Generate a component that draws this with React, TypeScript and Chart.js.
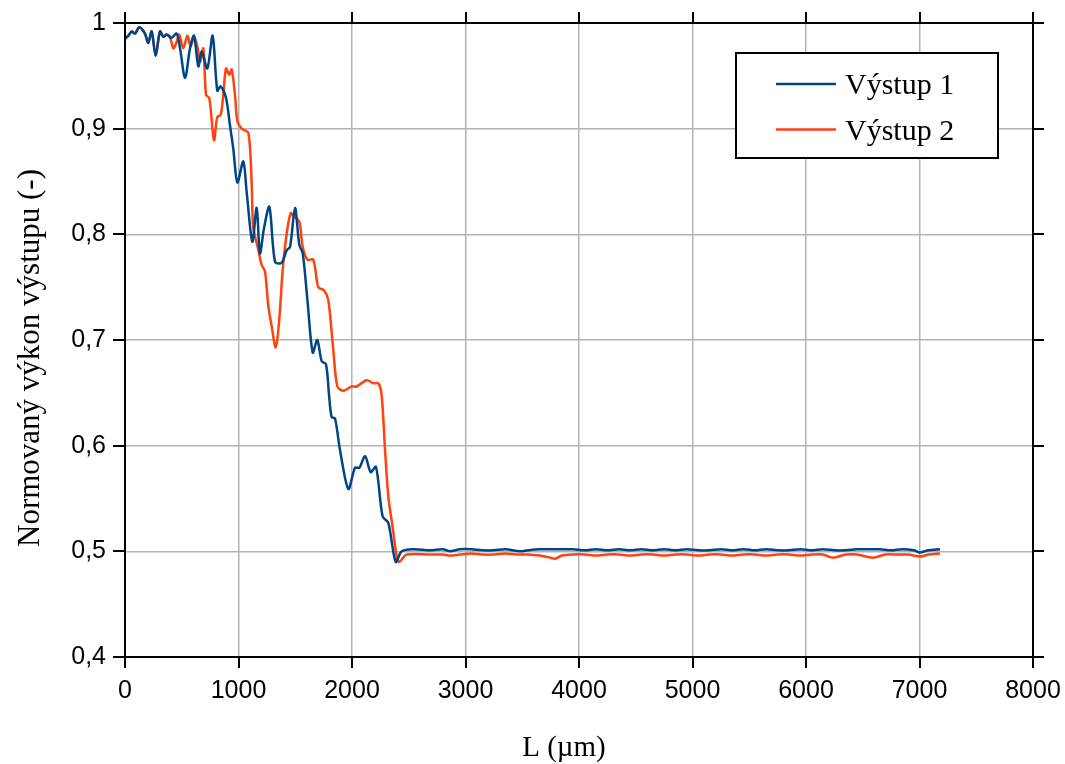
import { useEffect, useRef } from 'react';
import { Chart, registerables } from 'chart.js';

Chart.register(...registerables);

const seriesNames = ['Výstup 1', 'Výstup 2'];
const seriesColors = ['#004586', '#ff420e'];

const output1: [number, number][] = [
  [0, 0.985], [30, 0.988], [59, 0.992], [88, 0.99], [126, 0.996], [176, 0.99], [205, 0.981], [235, 0.992],
  [270, 0.969], [308, 0.992], [338, 0.987], [367, 0.989], [411, 0.986], [455, 0.99], [485, 0.976], [529, 0.948],
  [573, 0.976], [608, 0.988], [646, 0.959], [676, 0.973], [725, 0.957], [772, 0.988], [813, 0.936], [843, 0.94],
  [890, 0.929], [925, 0.903], [954, 0.881], [990, 0.849], [1042, 0.869], [1072, 0.84], [1122, 0.793], [1160, 0.825],
  [1189, 0.782], [1225, 0.806], [1272, 0.826], [1322, 0.774], [1380, 0.773], [1425, 0.785], [1454, 0.788], [1498, 0.825],
  [1536, 0.79], [1566, 0.782], [1607, 0.738], [1654, 0.688], [1694, 0.7], [1733, 0.68], [1771, 0.677], [1800, 0.645],
  [1821, 0.627], [1850, 0.626], [1894, 0.596], [1968, 0.559], [2026, 0.579], [2064, 0.579], [2115, 0.59], [2165, 0.575],
  [2211, 0.58], [2270, 0.533], [2320, 0.527], [2385, 0.49], [2438, 0.5], [2540, 0.502], [2687, 0.501],
  [2800, 0.502], [2863, 0.5], [2950, 0.502], [3050, 0.502], [3150, 0.501], [3250, 0.501], [3350, 0.502], [3480, 0.5],
  [3550, 0.501], [3650, 0.502], [3750, 0.502], [3850, 0.502], [3950, 0.502], [4050, 0.501], [4150, 0.502], [4250, 0.501],
  [4350, 0.502], [4450, 0.501], [4550, 0.502], [4650, 0.501], [4750, 0.502], [4850, 0.501], [4950, 0.502], [5050, 0.501],
  [5150, 0.501], [5250, 0.502], [5350, 0.501], [5450, 0.502], [5550, 0.501], [5650, 0.502], [5750, 0.501], [5850, 0.501],
  [5950, 0.502], [6050, 0.501], [6150, 0.502], [6250, 0.501], [6350, 0.501], [6450, 0.502], [6550, 0.502], [6650, 0.502],
  [6750, 0.501], [6850, 0.502], [6950, 0.501], [7004, 0.499], [7080, 0.501], [7180, 0.502],
];

const output2: [number, number][] = [
  [0, 0.985], [30, 0.988], [59, 0.992], [88, 0.99], [126, 0.996], [176, 0.99], [205, 0.981], [235, 0.992],
  [270, 0.969], [308, 0.992], [338, 0.987], [367, 0.989], [396, 0.987], [426, 0.976], [455, 0.982], [478, 0.989],
  [514, 0.976], [549, 0.988], [579, 0.978], [608, 0.987], [637, 0.978], [661, 0.963], [690, 0.976], [714, 0.932],
  [743, 0.929], [784, 0.889], [813, 0.911], [843, 0.913], [866, 0.932], [890, 0.957], [919, 0.951], [940, 0.956],
  [969, 0.932], [990, 0.907], [1028, 0.9], [1087, 0.896], [1116, 0.848], [1130, 0.807], [1175, 0.785], [1204, 0.771],
  [1233, 0.765], [1263, 0.732], [1292, 0.713], [1328, 0.693], [1359, 0.719], [1389, 0.766], [1425, 0.801], [1460, 0.82],
  [1489, 0.817], [1536, 0.812], [1566, 0.788], [1607, 0.776], [1659, 0.776], [1703, 0.75], [1753, 0.747], [1791, 0.738],
  [1835, 0.691], [1871, 0.656], [1924, 0.652], [1997, 0.656], [2041, 0.656], [2129, 0.662], [2188, 0.659], [2232, 0.659],
  [2261, 0.648], [2291, 0.596], [2320, 0.552], [2358, 0.523], [2394, 0.495], [2417, 0.49], [2482, 0.497], [2687, 0.497],
  [2800, 0.497], [2863, 0.496], [2950, 0.497], [3050, 0.498], [3150, 0.497], [3250, 0.497], [3350, 0.498], [3450, 0.497],
  [3550, 0.497], [3650, 0.496], [3750, 0.494], [3789, 0.493], [3850, 0.496], [3950, 0.497], [4050, 0.497], [4150, 0.496],
  [4250, 0.497], [4350, 0.497], [4450, 0.496], [4550, 0.497], [4650, 0.497], [4750, 0.496], [4850, 0.497], [4950, 0.497],
  [5050, 0.496], [5150, 0.497], [5250, 0.497], [5350, 0.496], [5450, 0.497], [5550, 0.497], [5650, 0.496], [5750, 0.497],
  [5850, 0.497], [5950, 0.496], [6050, 0.497], [6150, 0.497], [6238, 0.494], [6350, 0.497], [6450, 0.497], [6590, 0.494],
  [6700, 0.497], [6800, 0.497], [6900, 0.497], [7004, 0.495], [7080, 0.497], [7180, 0.498],
];

const xTicks = [0, 1000, 2000, 3000, 4000, 5000, 6000, 7000, 8000];
const xTickLabels = ['0', '1000', '2000', '3000', '4000', '5000', '6000', '7000', '8000'];
const yTicks = [0.4, 0.5, 0.6, 0.7, 0.8, 0.9, 1];
const yTickLabels = ['0,4', '0,5', '0,6', '0,7', '0,8', '0,9', '1'];
const xTitle = 'L (µm)';
const yTitle = 'Normovaný výkon výstupu (-)';

const SANS = "'Liberation Sans', Arial, sans-serif";
const SERIF = "'Liberation Serif', 'Times New Roman', serif";

const framePlugin = {
  id: 'frame',
  afterDatasetsDraw(chart: any) {
    const { ctx, chartArea, scales } = chart;
    const { left, right, top, bottom } = chartArea;
    const x = scales.x;
    const y = scales.y;
    ctx.save();
    ctx.strokeStyle = '#000';
    ctx.lineWidth = 2;
    ctx.strokeRect(left, top, right - left, bottom - top);
    ctx.beginPath();
    for (const v of xTicks) {
      const px = Math.round(x.getPixelForValue(v));
      ctx.moveTo(px, bottom);
      ctx.lineTo(px, bottom + 11);
      ctx.moveTo(px, top);
      ctx.lineTo(px, top - 11);
    }
    for (const v of yTicks) {
      const py = Math.round(y.getPixelForValue(v));
      ctx.moveTo(left - 12, py);
      ctx.lineTo(left, py);
      ctx.moveTo(right, py);
      ctx.lineTo(right + 11, py);
    }
    ctx.stroke();

    // axis titles
    ctx.fillStyle = '#000';
    ctx.textAlign = 'center';
    ctx.textBaseline = 'alphabetic';
    ctx.font = `29px ${SERIF}`;
    ctx.fillText(xTitle, 564, 756);
    ctx.save();
    ctx.translate(39, 358);
    ctx.rotate(-Math.PI / 2);
    ctx.font = `31px ${SERIF}`;
    ctx.fillText(yTitle, 0, 0);
    ctx.restore();

    // legend box
    const bx = 736, by = 53, bw = 262, bh = 105;
    ctx.fillStyle = '#fff';
    ctx.fillRect(bx, by, bw, bh);
    ctx.strokeStyle = '#000';
    ctx.lineWidth = 2;
    ctx.strokeRect(bx, by, bw, bh);
    ctx.font = `30px ${SERIF}`;
    ctx.textBaseline = 'alphabetic';
    ctx.textAlign = 'left';
    seriesNames.forEach((name, i) => {
      const ly = 84 + i * 45.5;
      ctx.strokeStyle = seriesColors[i];
      ctx.lineWidth = 2.5;
      ctx.beginPath();
      ctx.moveTo(776, ly);
      ctx.lineTo(836, ly);
      ctx.stroke();
      ctx.fillStyle = '#000';
      ctx.fillText(name, 845, ly + 10);
    });
    ctx.restore();
  },
};

export default function App() {
  const ref = useRef<HTMLCanvasElement | null>(null);
  useEffect(() => {
    if (!ref.current) return;
    const chart = new Chart(ref.current, {
      type: 'line',
      data: {
        datasets: [
          {
            label: seriesNames[0],
            data: output1.map(([x, y]) => ({ x, y })),
            borderColor: seriesColors[0],
            backgroundColor: seriesColors[0],
            borderWidth: 2.5,
            pointRadius: 0,
            tension: 0.3,
            fill: false,
          },
          {
            label: seriesNames[1],
            data: output2.map(([x, y]) => ({ x, y })),
            borderColor: seriesColors[1],
            backgroundColor: seriesColors[1],
            borderWidth: 2.5,
            pointRadius: 0,
            tension: 0.3,
            fill: false,
          },
        ],
      },
      options: {
        animation: false,
        responsive: true,
        maintainAspectRatio: false,
        layout: { padding: { top: 23, right: 32, bottom: 0, left: 0 } },
        plugins: { legend: { display: false }, tooltip: { enabled: false } },
        scales: {
          x: {
            type: 'linear',
            min: 0,
            max: 8000,
            afterFit: (s: any) => {
              s.height = 107;
              s.paddingLeft = 0;
              s.paddingRight = 0;
              s.paddingTop = 0;
              s.paddingBottom = 0;
            },
            afterBuildTicks: (s: any) => { s.ticks = xTicks.map((v) => ({ value: v })); },
            ticks: {
              autoSkip: false,
              maxRotation: 0,
              padding: 19,
              color: '#000',
              font: { family: SANS, size: 25 },
              callback: (v: any) => xTickLabels[xTicks.indexOf(Number(v))] ?? '',
            },
            grid: { color: '#b3b3b3', lineWidth: 1.5, drawTicks: false },
            border: { display: false },
          },
          y: {
            type: 'linear',
            min: 0.4,
            max: 1,
            afterFit: (s: any) => {
              s.width = 125;
              s.paddingLeft = 0;
              s.paddingRight = 0;
              s.paddingTop = 0;
              s.paddingBottom = 0;
            },
            afterBuildTicks: (s: any) => { s.ticks = yTicks.map((v) => ({ value: v })); },
            ticks: {
              autoSkip: false,
              padding: 19,
              color: '#000',
              font: { family: SANS, size: 25 },
              callback: (v: any) => {
                const i = yTicks.findIndex((t) => Math.abs(t - Number(v)) < 1e-9);
                return i >= 0 ? yTickLabels[i] : '';
              },
            },
            grid: { color: '#b3b3b3', lineWidth: 1.5, drawTicks: false },
            border: { display: false },
          },
        },
      },
      plugins: [framePlugin],
    });
    return () => chart.destroy();
  }, []);
  return (
    <div style={{ position: 'fixed', left: 0, top: 0, width: 1065, height: 764, background: '#fff' }}>
      <canvas ref={ref} />
    </div>
  );
}
